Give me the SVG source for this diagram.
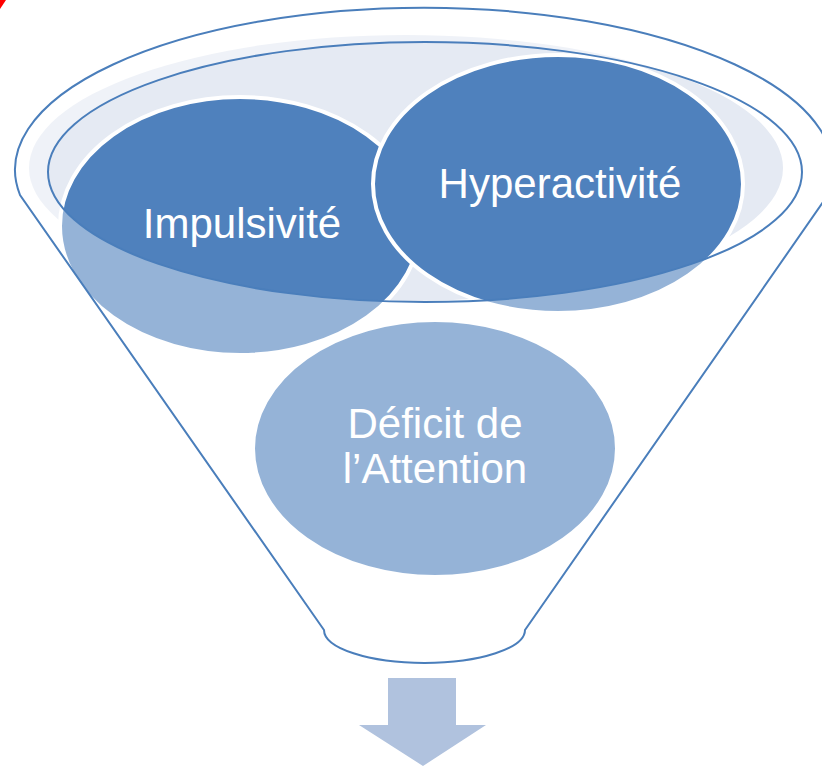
<svg xmlns="http://www.w3.org/2000/svg" width="822" height="766" viewBox="0 0 822 766">
<style>
.node{fill:#4F81BD;stroke:#FFFFFF;stroke-width:4}
.lbl{font-family:"Liberation Sans",Arial,sans-serif;font-size:42px;fill:#FFFFFF;text-anchor:middle}
.outline{fill:none;stroke:#4A7EBB;stroke-width:2}
</style>
<rect width="822" height="766" fill="#FFFFFF"/>
<polygon points="0,0 6,0 0,9" fill="#FF0000"/>
<g id="funnel-back">
<path d="M 20 195 A 409 162 0 1 1 828 195 L 525 630 A 100.5 33 0 0 1 324 630 Z" fill="#FFFFFF"/>
<ellipse cx="406" cy="168" rx="377" ry="133" fill="#E5EAF3"/>
</g>
<g id="node-impulsivite">
<ellipse class="node" cx="240" cy="226" rx="180" ry="129"/>
<text class="lbl" x="242" y="238">Impulsivité</text>
</g>
<g id="node-hyperactivite">
<ellipse class="node" cx="558" cy="184" rx="185" ry="129"/>
<text class="lbl" x="560" y="198">Hyperactivité</text>
</g>
<g id="node-deficit">
<ellipse class="node" cx="435" cy="448.5" rx="182" ry="128.5"/>
<text class="lbl" x="435" y="438">Déficit de</text>
<text class="lbl" x="435" y="483">l’Attention</text>
</g>
<g id="funnel-front">
<path d="M 20 195 A 409 162 0 1 1 828 195 L 525 630 A 100.5 33 0 0 1 324 630 Z M 48 172 A 377 130 0 1 0 802 172 A 377 130 0 1 0 48 172 Z" fill="#FFFFFF" fill-opacity="0.4" fill-rule="evenodd"/>
<ellipse class="outline" cx="425" cy="172" rx="377" ry="130"/>
<path class="outline" d="M 20 195 A 409 162 0 1 1 828 195 L 525 630 A 100.5 33 0 0 1 324 630 Z"/>
</g>
<g id="connectors">
<polygon points="388,678 456,678 456,725 486,725 423,766 359,725 388,725" fill="#B0C2DE"/>
</g>
</svg>
